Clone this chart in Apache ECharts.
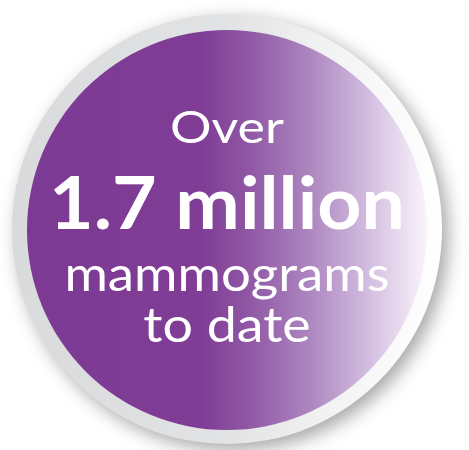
<!DOCTYPE html>
<html>
<head>
<meta charset="utf-8">
<script src="https://cdn.jsdelivr.net/npm/echarts@6/dist/echarts.min.js"></script>
<style>
html,body{margin:0;padding:0;background:#ffffff;}
#chart{width:469px;height:450px;}
</style>
</head>
<body>
<div id="chart"></div>
<script>
// Content of the badge
var lines = ['Over', '1.7 million', 'mammograms', 'to date'];
var lineWeights = ['normal', 'bold', 'normal', 'normal'];
var lineSizes = [44, 72, 48, 48];
var lineY = [129, 206, 276, 327];
var lineStretch = [1.18, 1.07, 1.1, 1.12];

var chart = echarts.init(document.getElementById('chart'), null, {renderer: 'canvas'});

var cx = 227, cy = 229;
var elements = [
  {
    type: 'circle',
    shape: {cx: cx, cy: cy, r: 215},
    style: {
      fill: new echarts.graphic.LinearGradient(0, 0, 1, 0, [
        {offset: 0, color: '#d9dadb'},
        {offset: 0.5, color: '#e2e3e4'},
        {offset: 0.8, color: '#f6f6f6'},
        {offset: 1, color: '#ffffff'}
      ]),
      shadowBlur: 18,
      shadowOffsetX: 6,
      shadowOffsetY: 6,
      shadowColor: 'rgba(0,0,0,0.35)'
    },
    z: 1
  },
  {
    type: 'circle',
    shape: {cx: cx, cy: cy + 1, r: 200},
    style: {
      fill: new echarts.graphic.LinearGradient(0, 0, 1, 0, [
        {offset: 0, color: '#7d3a94'},
        {offset: 0.44, color: '#7f3d96'},
        {offset: 0.55, color: '#8f56a4'},
        {offset: 0.7, color: '#ab84be'},
        {offset: 0.85, color: '#d2bcdf'},
        {offset: 1, color: '#f9f4fb'}
      ])
    },
    z: 2
  }
];
lines.forEach(function (t, i) {
  elements.push({
    type: 'text',
    x: cx,
    y: lineY[i],
    scaleX: lineStretch[i],
    style: {
      text: t,
      fill: '#ffffff',
      font: lineWeights[i] + ' ' + lineSizes[i] + 'px Lato',
      textAlign: 'center',
      textVerticalAlign: 'middle'
    },
    z: 3
  });
});

chart.setOption({
  animation: false,
  graphic: {elements: elements}
});
</script>
</body>
</html>
